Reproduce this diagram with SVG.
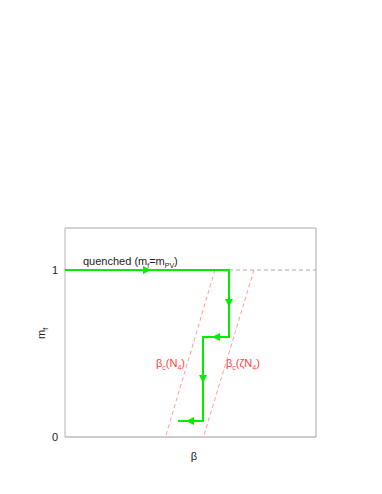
<svg xmlns="http://www.w3.org/2000/svg" width="382" height="494" viewBox="0 0 382 494">
<style>
text{font-family:"Liberation Sans",Arial,sans-serif;font-size:11px;}
.lbl{fill:#222;}
.red{fill:#ff4040;}
.frame{stroke:#aaa;stroke-width:1;fill:none;}
.axis{stroke:#ccc;stroke-width:1.5;fill:none;}
.path{stroke:#00ee00;stroke-width:2;fill:none;}
.arr{fill:#00ee00;}
.dred{stroke:#ff9a9a;stroke-width:1;stroke-dasharray:4,3;fill:none;}
.dgray{stroke:#aaa;stroke-width:1;stroke-dasharray:4,3;fill:none;}
</style>
<rect width="382" height="494" fill="#fff"/>
<g id="frame">
<path class="frame" d="M65,228 H316 V437"/>
<path class="axis" d="M65,228 V437"/>
<path class="frame" d="M65,437 H316" style="stroke:#999"/>
<text class="lbl" x="58" y="274" text-anchor="end">1</text>
<text class="lbl" x="58" y="441" text-anchor="end">0</text>
<text class="lbl" x="194" y="460" text-anchor="middle">β</text>
<text class="lbl" transform="translate(45,339) rotate(-90)">m<tspan font-size="7" dy="3">f</tspan></text>
</g>
<g id="reference-lines">
<path class="dgray" d="M229,270 H316"/>
<path class="dred" d="M215,270 L165.5,437"/>
<path class="dred" d="M254,270 L203.5,437"/>
</g>
<g id="labels">
<text class="lbl" x="83" y="265">quenched (m<tspan font-size="7" dy="3">f</tspan><tspan dy="-3">=m</tspan><tspan font-size="7" dy="3">PV</tspan><tspan dy="-3">)</tspan></text>
<text class="red" x="156" y="367">β<tspan font-size="7" dy="3">c</tspan><tspan dy="-3">(N</tspan><tspan font-size="7" dy="3">4</tspan><tspan dy="-3">)</tspan></text>
<text class="red" x="226" y="367">β<tspan font-size="7" dy="3">c</tspan><tspan dy="-3">(ζN</tspan><tspan font-size="7" dy="3">4</tspan><tspan dy="-3">)</tspan></text>
</g>
<g id="connectors">
<path class="path" d="M65,270 H229 V337 H203 V421 H178"/>
<polygon class="arr" points="151,270 143,266 143,274"/>
<polygon class="arr" points="229,307 225,299 233,299"/>
<polygon class="arr" points="212,337 220,333 220,341"/>
<polygon class="arr" points="203,383 199,375 207,375"/>
<polygon class="arr" points="186,421 194,417 194,425"/>
</g>
</svg>
